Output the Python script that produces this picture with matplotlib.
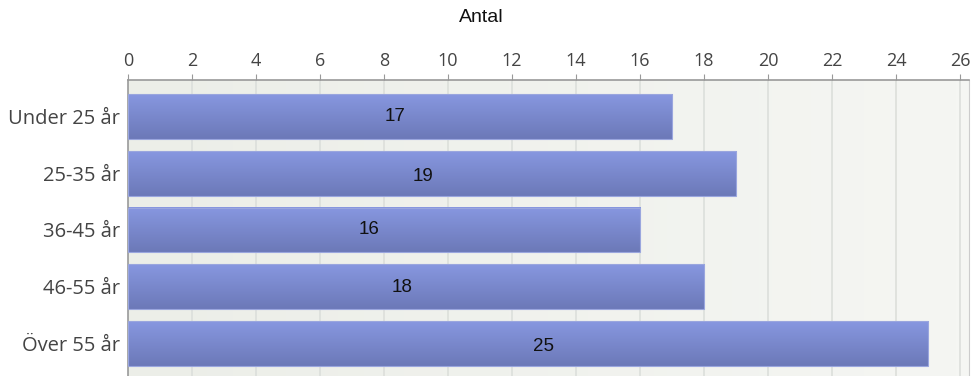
import numpy as np
import matplotlib.pyplot as plt
from matplotlib.colors import LinearSegmentedColormap

plt.rcParams['font.family'] = ['Liberation Sans', 'DejaVu Sans']

categories = ["Under 25 år", "25-35 år", "36-45 år", "46-55 år", "Över 55 år"]
values = [17, 19, 16, 18, 25]
xticks = list(range(0, 27, 2))
# where the value labels sit inside each bar (fraction of bar length)
label_frac = [0.49, 0.485, 0.47, 0.476, 0.519]
label_dy = [0.0, 0.05, 0.0, 0.02, 0.05]

fig = plt.figure(figsize=(9.75, 3.76), dpi=100)
ax = fig.add_axes([128 / 975, 0.0, 841 / 975, 1 - 80 / 376])

xmax = 26.28
ylim = (4.57, -0.64)

# plot area background: faint left-to-right gradient
bg = LinearSegmentedColormap.from_list("bg", ["#eceee8", "#f5f6f3"])
ax.imshow(np.linspace(0, 1, 64).reshape(1, -1), cmap=bg, aspect="auto",
          extent=(0, xmax, ylim[0], ylim[1]), zorder=0)
for x0 in xticks[1:]:
    ax.axvline(x0, color="#dcdfdb", lw=1.2, zorder=0.5)

# gradient bars
cmap = LinearSegmentedColormap.from_list("bar", ["#8797e0", "#6c79b8"])
grad = np.linspace(0, 1, 64).reshape(-1, 1)
bar_h = 0.79
for i, v in enumerate(values):
    ax.imshow(grad, cmap=cmap, aspect="auto", zorder=2,
              extent=(0, v, i + bar_h / 2, i - bar_h / 2), interpolation="bilinear")
    ax.add_patch(plt.Rectangle((0, i - bar_h / 2), v, bar_h, fill=False,
                               ec="#9aa6de", lw=0.8, zorder=3))
    ax.text(v * label_frac[i], i + label_dy[i], str(v), ha="center", va="center",
            fontsize=13.5, color="#111111", zorder=4)
ax.set_xlim(0, xmax)
ax.set_ylim(*ylim)

ax.set_yticks(range(len(categories)))
ax.set_yticklabels(categories, family="Open Sans")
ax.xaxis.tick_top()
ax.set_xticks(xticks)
ax.set_xticklabels([str(t) for t in xticks], family="Open Sans")
ax.tick_params(axis="x", colors="#999999", labelcolor="#444444", labelsize=13,
               length=4, direction="out", pad=3)
ax.tick_params(axis="y", length=0, labelcolor="#444444", labelsize=14.5, pad=6)
fig.text(481 / 975, 1 - 18 / 376, "Antal", ha="center", va="center",
         fontsize=14, color="#111111")

for s in ["top", "left"]:
    ax.spines[s].set_color("#999999")
    ax.spines[s].set_linewidth(1.2)
ax.spines["right"].set_color("#cccccc")
ax.spines["bottom"].set_visible(False)

fig.savefig("out.png", dpi=100)
